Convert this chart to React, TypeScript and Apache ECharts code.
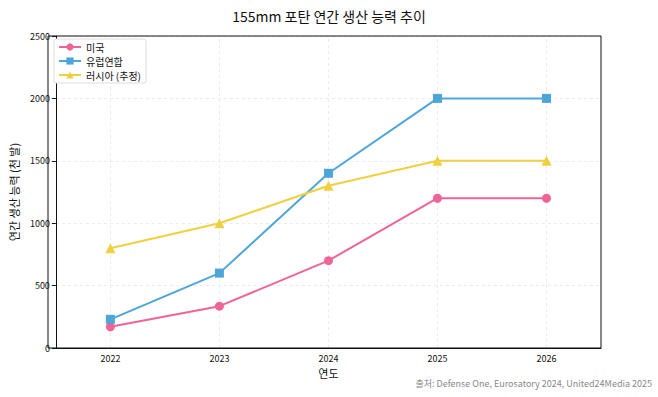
import React, { useEffect, useRef } from "react";
import * as echarts from "echarts";

const years = ["2022", "2023", "2024", "2025", "2026"];
const usa = [170, 335, 700, 1200, 1200];
const eu = [230, 600, 1400, 2000, 2000];
const russia = [800, 1000, 1300, 1500, 1500];
const seriesNames = ["미국", "유럽연합", "러시아 (추정)"];

const FONT = "'Noto Sans CJK KR', 'Noto Sans', sans-serif";
const GRID = { left: 48, right: 57, top: 36, bottom: 49 };
const W = 658;
const H = 397;

export default function App() {
  const ref = useRef<HTMLDivElement>(null);
  useEffect(() => {
    if (!ref.current) return;
    const chart = echarts.init(ref.current, null, { renderer: "svg" });
    const mk = (name: string, data: number[], color: string, symbol: string, size: number) => ({
      name,
      type: "line",
      data,
      symbol,
      symbolSize: size,
      z: 3,
      lineStyle: { color, width: 2 },
      itemStyle: { color },
      emphasis: { disabled: true },
    });
    const gridLine = { color: "#ebebeb", type: [3, 3], width: 1 };
    chart.setOption({
      animation: false,
      backgroundColor: "#ffffff",
      textStyle: { fontFamily: FONT },
      title: {
        text: "155mm 포탄 연간 생산 능력 추이",
        left: "center",
        top: 4,
        textStyle: { fontFamily: FONT, fontSize: 14, fontWeight: "normal", color: "#111" },
      },
      graphic: [
        {
          type: "rect",
          z: 100,
          silent: true,
          shape: {
            x: GRID.left,
            y: GRID.top,
            width: W - GRID.left - GRID.right,
            height: H - GRID.top - GRID.bottom,
          },
          style: { fill: "none", stroke: "#111", lineWidth: 1 },
        },
        {
          type: "text",
          right: 6,
          top: 379,
          style: {
            text: "출처: Defense One, Eurosatory 2024, United24Media 2025",
            fontFamily: FONT,
            fontSize: 9,
            fill: "#888",
          },
        },
      ],
      legend: {
        left: 54,
        top: 39,
        orient: "vertical",
        itemWidth: 22,
        itemHeight: 9,
        itemGap: 4,
        padding: [3, 5, 3, 4],
        borderColor: "#ddd",
        borderWidth: 1,
        borderRadius: 2,
        backgroundColor: "#fff",
        textStyle: { fontFamily: FONT, fontSize: 10, color: "#111" },
        data: seriesNames,
      },
      grid: {
        ...GRID,
        show: true,
        borderWidth: 0,
        backgroundColor: "#fff",
      },
      xAxis: {
        type: "category",
        data: years,
        boundaryGap: true,
        name: "연도",
        nameLocation: "middle",
        nameGap: 19,
        nameTextStyle: { fontFamily: FONT, fontSize: 11, color: "#111" },
        axisLine: { lineStyle: { color: "#111", width: 1 } },
        axisTick: { alignWithLabel: true, length: 4, lineStyle: { color: "#111" } },
        axisLabel: { fontFamily: FONT, fontSize: 9, color: "#111", margin: 6 },
        splitLine: { show: false },
      },
      yAxis: {
        type: "value",
        min: 0,
        max: 2500,
        interval: 500,
        name: "연간 생산 능력 (천 발)",
        nameLocation: "middle",
        nameGap: 30,
        nameTextStyle: { fontFamily: FONT, fontSize: 11, color: "#111" },
        axisLine: { show: true, lineStyle: { color: "#111", width: 1 } },
        axisTick: { show: true, length: 4, lineStyle: { color: "#111" } },
        axisLabel: { fontFamily: FONT, fontSize: 9, color: "#111", margin: 6, formatter: (v: number) => String(v) },
        splitLine: { show: true, lineStyle: gridLine },
      },
      series: [
        {
          type: "line",
          data: [],
          z: 1,
          silent: true,
          markLine: {
            silent: true,
            z: 1,
            symbol: "none",
            label: { show: false },
            lineStyle: gridLine,
            emphasis: { disabled: true },
            data: years.map((y) => ({ xAxis: y })),
          },
        },
        mk(seriesNames[0], usa, "#ee6497", "circle", 9),
        mk(seriesNames[1], eu, "#4ea6d8", "rect", 9),
        mk(seriesNames[2], russia, "#f0d040", "triangle", 10),
      ],
    });
    return () => chart.dispose();
  }, []);
  return (
    <div
      ref={ref}
      style={{ position: "absolute", left: 0, top: 0, width: W, height: H }}
    />
  );
}
